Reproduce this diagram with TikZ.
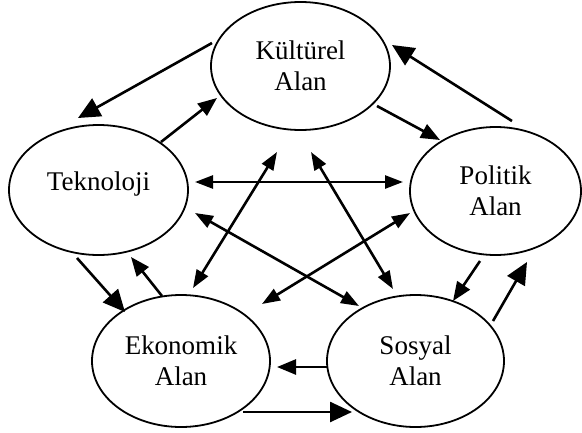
\documentclass[tikz,border=0pt]{standalone}
\usepackage{fontspec}
\setmainfont{Liberation Serif}
\usetikzlibrary{arrows.meta,shapes.geometric}
\tikzset{
  area/.style={ellipse, draw, line width=1.8pt, inner sep=0pt, outer sep=0pt,
    align=center, font=\fontsize{27}{31}\selectfont},
  link/.style={line width=2.6pt},
  bighead/.style={link, -{Triangle[length=22pt,width=20pt]}},
  midhead/.style={link, -{Triangle[length=19pt,width=15pt]}},
  twohead/.style={link, {Triangle[length=18pt,width=13pt]}-{Triangle[length=18pt,width=13pt]}},
}
\begin{document}
\begin{tikzpicture}[x=1pt,y=-1pt]
  \useasboundingbox (0,0) rectangle (582,432);

  % the five fields
  \node[area, minimum width=179pt, minimum height=128pt] (kul) at (300.5,66) {Kültürel\\Alan};
  \node[area, minimum width=179pt, minimum height=130pt, text height=18pt, text depth=18pt] (tek) at (98.5,190) {Teknoloji};
  \node[area, minimum width=171pt, minimum height=128pt] (pol) at (495.5,191) {Politik\\Alan};
  \node[area, minimum width=178pt, minimum height=132pt] (eko) at (181,361) {Ekonomik\\Alan};
  \node[area, minimum width=177pt, minimum height=132pt] (sos) at (415.5,361) {Sosyal\\Alan};

  % end points of the connectors
  \coordinate (kt0) at (212,43);  \coordinate (kt1) at (78,118);
  \coordinate (tk0) at (161,142); \coordinate (tk1) at (217,98);
  \coordinate (kp0) at (377,106); \coordinate (kp1) at (440,140);
  \coordinate (pk0) at (512,121); \coordinate (pk1) at (392,45);
  \coordinate (tp0) at (195,182); \coordinate (tp1) at (403,182);
  \coordinate (ke0) at (277,152); \coordinate (ke1) at (193,288);
  \coordinate (ks0) at (311,152); \coordinate (ks1) at (393,289);
  \coordinate (ts0) at (195,213); \coordinate (ts1) at (359,306);
  \coordinate (ep0) at (262,304); \coordinate (ep1) at (410,213);
  \coordinate (te0) at (77,258);  \coordinate (te1) at (125,312);
  \coordinate (et0) at (162,296); \coordinate (et1) at (131,257);
  \coordinate (ps0) at (480,261); \coordinate (ps1) at (453,301);
  \coordinate (sp0) at (493,321); \coordinate (sp1) at (527,262);
  \coordinate (se0) at (327,367); \coordinate (se1) at (277,367);
  \coordinate (es0) at (243,412); \coordinate (es1) at (352,412);

  % outer ring
  \draw[bighead] (kt0) -- (kt1);
  \draw[midhead] (tk0) -- (tk1);
  \draw[midhead] (kp0) -- (kp1);
  \draw[bighead] (pk0) -- (pk1);
  \draw[bighead] (te0) -- (te1);
  \draw[midhead] (et0) -- (et1);
  \draw[midhead] (ps0) -- (ps1);
  \draw[bighead] (sp0) -- (sp1);
  \draw[midhead] (se0) -- (se1);
  \draw[bighead] (es0) -- (es1);

  % inner star
  \draw[twohead] (tp0) -- (tp1);
  \draw[twohead] (ke0) -- (ke1);
  \draw[twohead] (ks0) -- (ks1);
  \draw[twohead] (ts0) -- (ts1);
  \draw[twohead] (ep0) -- (ep1);
\end{tikzpicture}
\end{document}
